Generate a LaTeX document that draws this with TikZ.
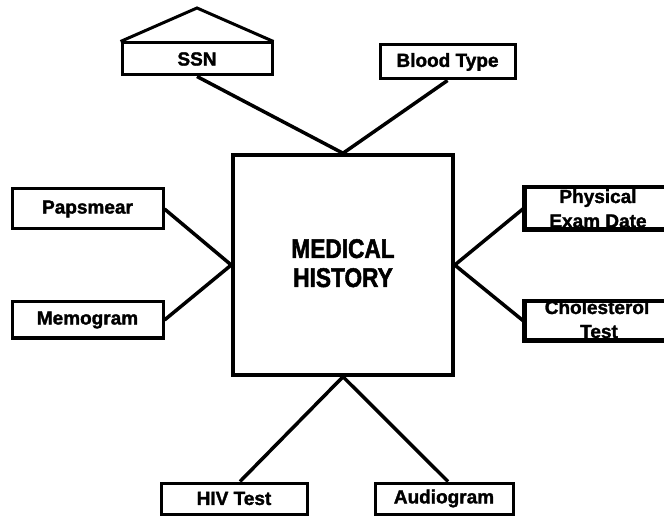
\documentclass[tikz,border=0pt]{standalone}
\usepackage{fontspec}
\setmainfont{Liberation Sans}[BoldFeatures={FakeBold=1.6}]
\newfontfamily\ctrfont{Liberation Sans}[FakeStretch=0.84, BoldFeatures={FakeBold=1.8}]
\begin{document}
\begin{tikzpicture}[x=1pt,y=-1pt,
  entity/.style={draw=black, line width=3pt, fill=white, inner sep=0pt,
    font=\fontsize{19}{22}\selectfont\bfseries},
  link/.style={draw=black, line width=3.5pt},
  lbl/.style={inner sep=0pt, anchor=base, font=\fontsize{19}{22}\selectfont\bfseries}]
\useasboundingbox (0,0) rectangle (664,521);
\clip (0,0) rectangle (664,521);

% central entity
\node[entity, line width=3.5pt, minimum width=220pt, minimum height=220pt] (hist) at (343,265) {};
\node[inner sep=0pt, anchor=base, font=\ctrfont\fontsize{27}{30}\selectfont\bfseries] (histA) at (343,258) {MEDICAL};
\node[inner sep=0pt, anchor=base, font=\ctrfont\fontsize{27}{30}\selectfont\bfseries] (histB) at (343,287) {HISTORY};

% surrounding attributes
\node[entity, minimum width=150pt, minimum height=32pt] (ssn) at (197,59) {SSN};
\node[entity, minimum width=135pt, minimum height=34pt] (blood) at (447.5,62) {Blood Type};
\node[entity, minimum width=151pt, minimum height=40pt] (pap) at (87.5,209) {Papsmear};
\node[entity, minimum width=151pt, minimum height=36pt] (memo) at (87.5,320) {Memogram};
\node[entity, minimum width=146pt, minimum height=31pt] (hiv) at (234,498.5) {HIV Test};
\node[entity, minimum width=138pt, minimum height=31pt] (audio) at (444,498.5) {Audiogram};
\node[entity, minimum width=175pt, minimum height=41pt] (phys) at (612.5,208.5) {};
\node[entity, minimum width=175pt, minimum height=38pt] (chol) at (612.5,321) {};

% two-line labels, cut off at the box edges
\begin{scope}
  \clip (phys.south west) rectangle (phys.north east);
  \node[lbl] (physA) at (598,203) {Physical};
  \node[lbl] (physB) at (598,227.5) {Exam Date};
\end{scope}
\begin{scope}
  \clip (chol.south west) rectangle (chol.north east);
  \node[lbl] (cholA) at (597,314) {Cholesterol};
  \node[lbl] (cholB) at (599,338) {Test};
\end{scope}
\draw[line width=3pt] (phys.south west) rectangle (phys.north east);
\draw[line width=3pt] (chol.south west) rectangle (chol.north east);

% roof over SSN
\coordinate (apex) at (197,8);
\draw[line width=3pt, line join=miter] (ssn.north west) -- (apex) -- (ssn.north east);

% connectors
\draw[link] (ssn.south) -- (hist.north);
\draw[link] (blood.south) -- (hist.north);
\draw[link] (pap.east) -- (hist.west);
\draw[link] (memo.east) -- (hist.west);
\draw[link] (phys.west) -- (hist.east);
\draw[link] (chol.west) -- (hist.east);
\draw[link] ([xshift=6pt]hiv.north) -- (hist.south);
\draw[link] ([xshift=4pt]audio.north) -- (hist.south);
\end{tikzpicture}
\end{document}
